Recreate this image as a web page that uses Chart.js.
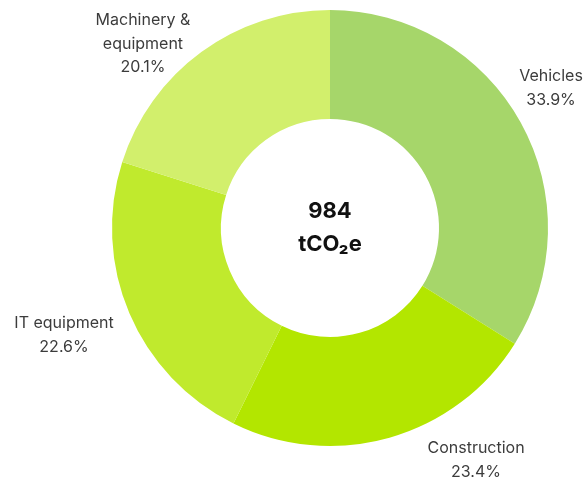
<!DOCTYPE html>
<html>
<head>
<title>Emissions by category</title>
<script src="https://cdn.jsdelivr.net/npm/chart.js@4.4.0/dist/chart.umd.min.js"></script>
<style>
html, body { margin: 0; padding: 0; background: #ffffff; }
#wrap { width: 586px; height: 483px; }
</style>
</head>
<body>
<div id="wrap"><canvas id="donut"></canvas></div>
<script>
var categories = ["Vehicles", "Construction", "IT equipment", "Machinery & equipment"];
var shares = [33.9, 23.4, 22.6, 20.1];
var labelLines = [["Vehicles"], ["Construction"], ["IT equipment"], ["Machinery &", "equipment"]];
var total = "984";
var unit = "tCO\u2082e";
var colors = ["#a6d66a", "#b3e600", "#c0ea2d", "#d2ef6c"];

// where each outside label sits, in units of the outer radius from the centre
var labelSpots = [[1.014, -0.642], [0.670, 1.064], [-1.220, 0.491], [-0.858, -0.844]];

var outsideLabels = {
  id: 'outsideLabels',
  afterDraw: function (chart) {
    var ctx = chart.ctx;
    var arcs = chart.getDatasetMeta(0).data;
    var cx = arcs[0].x, cy = arcs[0].y, r = arcs[0].outerRadius;
    ctx.save();
    ctx.textAlign = 'center';
    ctx.textBaseline = 'middle';
    ctx.font = '16px Inter, sans-serif';
    ctx.fillStyle = '#3c3c3c';
    for (var i = 0; i < arcs.length; i++) {
      var lines = labelLines[i].concat([shares[i].toFixed(1) + '%']);
      var x = cx + labelSpots[i][0] * r;
      var y = cy + labelSpots[i][1] * r;
      var top = y - (lines.length - 1) * 23.5 / 2;
      for (var k = 0; k < lines.length; k++) {
        ctx.fillText(lines[k], x, top + k * 23.5);
      }
    }
    ctx.font = 'bold 22px Inter, sans-serif';
    ctx.fillStyle = '#111111';
    ctx.fillText(total, cx, cy - 17);
    ctx.fillText(unit, cx, cy + 16);
    ctx.restore();
  }
};

var ctx = document.getElementById('donut').getContext('2d');
var chart = new Chart(ctx, {
  type: 'doughnut',
  data: {
    labels: categories,
    datasets: [{
      data: shares,
      backgroundColor: colors,
      hoverBackgroundColor: colors,
      borderWidth: 0,
      hoverOffset: 0
    }]
  },
  options: {
    responsive: true,
    maintainAspectRatio: false,
    animation: false,
    cutout: '50%',
    layout: { padding: { left: 74, right: 0, top: 10, bottom: 37 } },
    plugins: {
      legend: { display: false },
      tooltip: { enabled: false }
    }
  },
  plugins: [outsideLabels]
});
</script>
</body>
</html>
